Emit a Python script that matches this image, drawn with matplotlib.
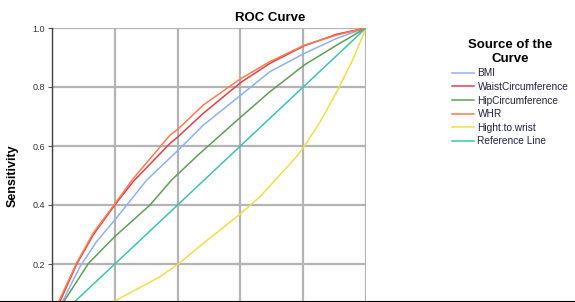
import matplotlib
matplotlib.use("Agg")
import matplotlib.pyplot as plt
from matplotlib.lines import Line2D

plt.rcParams['font.family'] = ['Liberation Sans', 'DejaVu Sans']

# ROC points (1 - specificity, sensitivity)
bmi_x = [0.0, 0.036, 0.089, 0.142, 0.2, 0.302, 0.402, 0.482, 0.602, 0.694, 0.804, 0.907, 1.0]
bmi_y = [0.0, 0.078, 0.191, 0.276, 0.349, 0.485, 0.586, 0.671, 0.773, 0.852, 0.914, 0.965, 1.0]

waist_x = [0.0, 0.025, 0.079, 0.132, 0.2, 0.259, 0.376, 0.402, 0.482, 0.602, 0.694, 0.804, 0.907, 1.0]
waist_y = [0.0, 0.072, 0.2, 0.300, 0.400, 0.480, 0.609, 0.632, 0.711, 0.816, 0.880, 0.940, 0.979, 1.0]

hip_x = [0.0, 0.041, 0.116, 0.2, 0.312, 0.381, 0.471, 0.602, 0.694, 0.804, 0.907, 1.0]
hip_y = [0.0, 0.078, 0.202, 0.293, 0.400, 0.485, 0.575, 0.699, 0.784, 0.875, 0.942, 1.0]

whr_x = [0.0, 0.022, 0.079, 0.132, 0.2, 0.259, 0.376, 0.402, 0.482, 0.602, 0.694, 0.804, 0.907, 1.0]
whr_y = [0.0, 0.074, 0.205, 0.306, 0.404, 0.490, 0.637, 0.658, 0.739, 0.829, 0.886, 0.942, 0.976, 1.0]

hw_x = [0.0, 0.206, 0.344, 0.402, 0.482, 0.535, 0.602, 0.662, 0.726, 0.779, 0.806, 0.854, 0.907, 0.96, 1.0]
hw_y = [0.0, 0.078, 0.157, 0.200, 0.270, 0.315, 0.372, 0.428, 0.502, 0.564, 0.603, 0.682, 0.784, 0.897, 1.0]

ref_x = [0.0, 1.0]
ref_y = [0.0, 1.0]

ticks = [0.0, 0.2, 0.4, 0.6, 0.8, 1.0]
tick_labels = ['', '0.2', '0.4', '0.6', '0.8', '1.0']

fig = plt.figure(figsize=(5.75, 3.02), dpi=100)
ax = fig.add_axes([52/575, -21/302, 314/575, 295/302])

ax.plot(bmi_x, bmi_y, color='#8cb2f2', lw=1.1, label='BMI')
ax.plot(waist_x, waist_y, color='#e0404e', lw=1.1, label='WaistCircumference')
ax.plot(hip_x, hip_y, color='#5f9e55', lw=1.1, label='HipCircumference')
ax.plot(whr_x, whr_y, color='#ff7c4c', lw=1.1, label='WHR')
ax.plot(hw_x, hw_y, color='#ece04a', lw=1.1, label='Hight.to.wrist')
ax.plot(ref_x, ref_y, color='#3cc2b2', lw=1.1, label='Reference Line')

ax.set_xlim(0, 1)
ax.set_ylim(0, 1)
ax.set_xticks(ticks)
ax.set_yticks(ticks)
ax.set_yticklabels(tick_labels, fontsize=6.5, color='#333333')
ax.tick_params(axis='y', length=3, width=0.8, color='#555555', pad=2)
ax.tick_params(axis='x', length=0, labelbottom=False)
ax.grid(True, color='#b4b4b4', lw=1.6)
ax.set_axisbelow(True)
for s in ['top', 'right', 'bottom']:
    ax.spines[s].set_visible(False)
ax.spines['left'].set_color('#444444')
ax.spines['left'].set_linewidth(1.0)
ax.set_ylabel('Sensitivity', fontsize=9, fontweight='bold', labelpad=10)

fig.text(270/575, 1 - 18/302, 'ROC Curve', ha='center', va='center',
         fontsize=9.5, fontweight='bold')

leg = fig.legend(loc='upper left', bbox_to_anchor=(443/575, 1 - 30/302),
                 frameon=False, fontsize=7.3, handlelength=2.2, handletextpad=0.3,
                 labelspacing=0.35, title='Source of the\nCurve',
                 title_fontproperties={'weight': 'bold', 'size': 9.5})
leg._legend_box.align = 'center'
leg.get_title().set_multialignment('center')
for t in leg.get_texts():
    t.set_color('#222244')

# bottom border of the screenshot
fig.add_artist(Line2D([0, 1], [0.5/302, 0.5/302], color='black', lw=1.5,
                      transform=fig.transFigure))

fig.savefig('out.png', dpi=100)
